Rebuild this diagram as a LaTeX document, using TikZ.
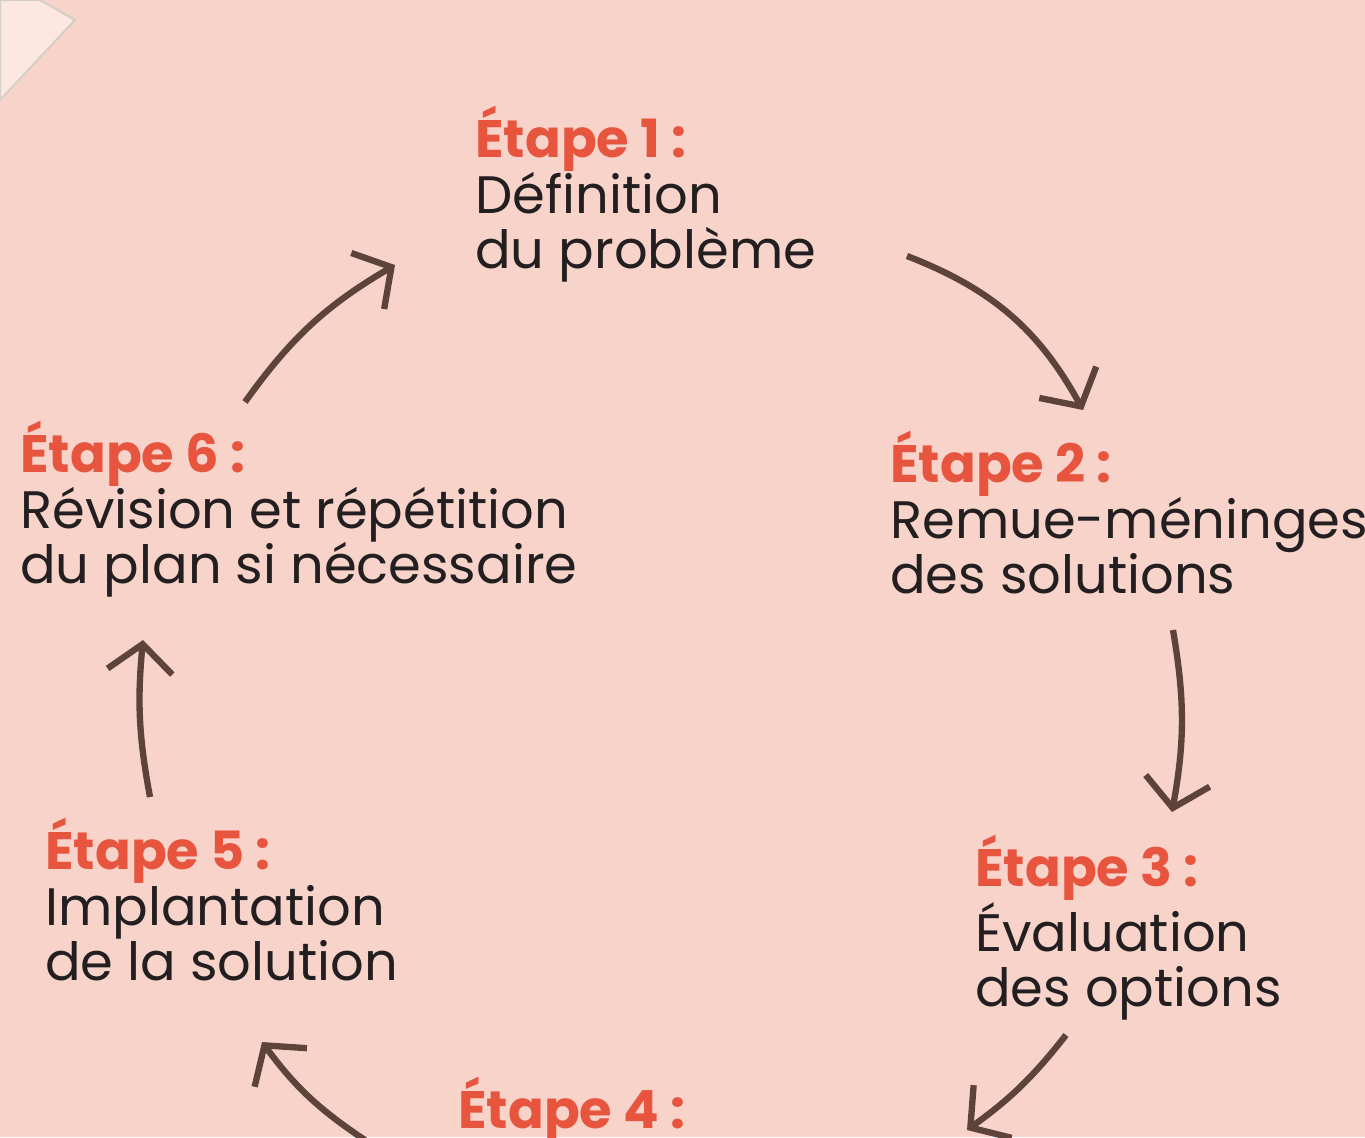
\documentclass[tikz,border=0pt]{standalone}
\usepackage{fontspec}
\setmainfont{Poppins}
\usetikzlibrary{arrows.meta,positioning}
\definecolor{fond}{HTML}{F7D3CA}
\definecolor{pale}{HTML}{FDE8E1}
\definecolor{bord}{HTML}{D6CFC8}
\definecolor{rouge}{HTML}{E8553F}
\definecolor{brun}{HTML}{5E433B}
\definecolor{noir}{HTML}{231F20}
\tikzset{
  etape/.style={anchor=north west, inner sep=0pt, align=left, text=noir,
    font=\fontsize{30}{31.5}\selectfont},
  fleche/.style={draw=brun, line width=3.6pt,
    -{Straight Barb[length=0.55cm, width=1.3cm, line width=3.6pt]}},
}
\newcommand{\titre}[1]{{\bfseries\color{rouge}#1}}
\begin{document}
\begin{tikzpicture}[x=0.02cm, y=-0.02cm]
  \useasboundingbox (0,0) rectangle (1365,1137);
  \fill[fond] (0,0) rectangle (1365,1137);
  % coin de page
  \filldraw[fill=pale, draw=bord, line width=1.2pt] (0,0) -- (40,0) -- (75,20) -- (0,100) -- cycle;
  % etapes
  \node[etape] (e1) at (475,106) {\titre{Étape 1 :}\\Définition\\du problème};
  \node[etape] (e2) at (890,431) {\titre{Étape 2 :}\\Remue-méninges\\des solutions};
  \node[etape] (e3) at (975,835) {\titre{Étape 3 :}\\Évaluation\\des options};
  \node[etape] (e4) at (458,1077) {\titre{Étape 4 :}};
  \node[etape] (e5) at (45,818) {\titre{Étape 5 :}\\Implantation\\de la solution};
  \node[etape] (e6) at (20,421) {\titre{Étape 6 :}\\Révision et répétition\\du plan si nécessaire};
  % extremites des fleches
  \coordinate (d1) at (907,256);  \coordinate (a1) at (1083,410);
  \coordinate (d2) at (1173,630); \coordinate (a2) at (1172,812);
  \coordinate (d3) at (1066,1035);\coordinate (a3) at (967,1130);
  \coordinate (d4) at (365,1140); \coordinate (a4) at (262,1042);
  \coordinate (d5) at (150,797);  \coordinate (a5) at (143,640);
  \coordinate (d6) at (245,402);  \coordinate (a6) at (395,265);
  % cycle
  \draw[fleche] (d1) to[bend left=20] (a1);
  \draw[fleche] (d2) to[bend left=10] (a2);
  \draw[fleche] (d3) to[bend left=8] (a3);
  \draw[fleche] (d4) to[bend left=10] (a4);
  \draw[fleche] (d5) to[bend left=8] (a5);
  \draw[fleche] (d6) to[bend left=12] (a6);
\end{tikzpicture}
\end{document}
